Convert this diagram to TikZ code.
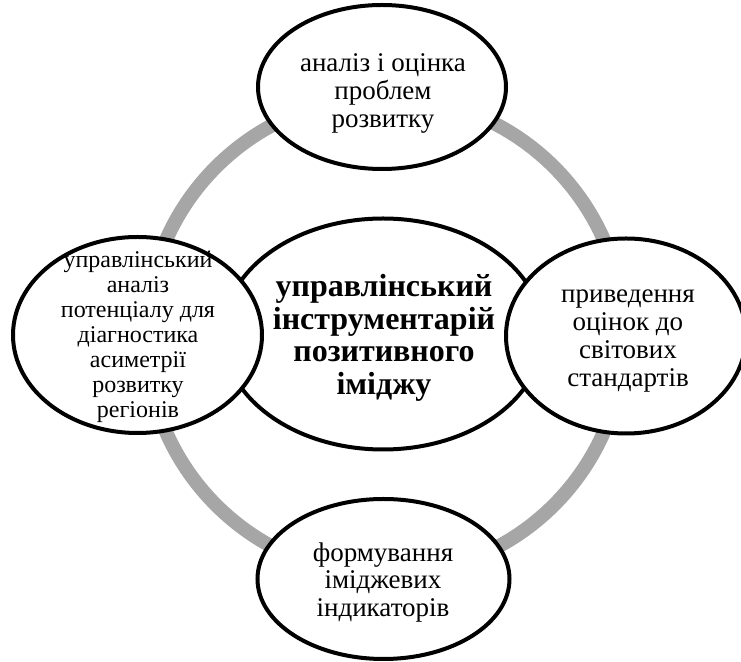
\documentclass[tikz,border=0pt]{standalone}
\usepackage{fontspec}
\setmainfont{Liberation Serif}
\usetikzlibrary{shapes.geometric}
\definecolor{ringgray}{HTML}{A6A6A6}

\begin{document}
\begin{tikzpicture}[x=0.5pt,y=-0.5pt,
    bubble/.style={draw,ellipse,line width=2pt,fill=white,inner sep=0pt},
    txt/.style={align=center,inner sep=0pt,font=\fontsize{13.5}{13.9}\selectfont},
    smalltxt/.style={txt,font=\fontsize{12}{12.5}\selectfont},
    bigtxt/.style={txt,font=\fontsize{16}{16.25}\selectfont\bfseries}]
    \useasboundingbox (0,0) rectangle (741,662);
    \clip (0,0) rectangle (741,662);

    % grey ring behind the bubbles
    \draw[ringgray,line width=7pt] (385,336) circle [radius=119.5pt];

    % outer bubbles and the centre one
    \node[bubble,minimum width=124pt,minimum height=82pt] (analiz) at (382,87) {};
    \node[bubble,minimum width=126pt,minimum height=80pt] (formuv) at (383.5,579) {};
    \node[bubble,minimum width=160pt,minimum height=115.5pt] (centre) at (383,334) {};
    \node[bubble,minimum width=124.5pt,minimum height=98pt] (upravl) at (137.5,335) {};
    \node[bubble,minimum width=120pt,minimum height=97.5pt] (pryved) at (626,336) {};

    % texts
    \node[txt] (analiztxt) at (383,93.5) {аналіз і оцінка\\проблем\\розвитку};
    \node[txt] (formuvtxt) at (383,582.5) {формування\\іміджевих\\індикаторів};
    \node[bigtxt] (centretxt) at (384,338) {управлінський\\інструментарій\\позитивного\\іміджу};
    \node[smalltxt] (upravltxt) at (138,337) {управлінський\\аналіз\\потенціалу для\\діагностика\\асиметрії\\розвитку\\регіонів};
    \node[txt] (pryvedtxt) at (628,341) {приведення\\оцінок до\\світових\\стандартів};
\end{tikzpicture}
\end{document}
